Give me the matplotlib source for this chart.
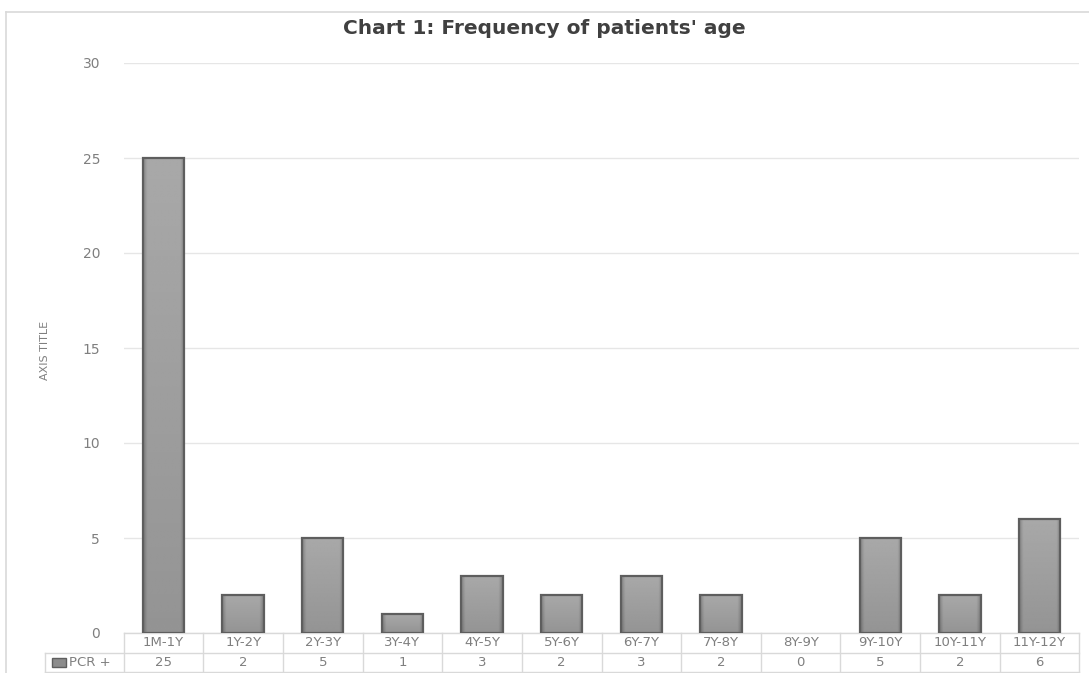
import matplotlib
matplotlib.use("Agg")
import matplotlib.pyplot as plt
import numpy as np
from matplotlib.patches import Rectangle
from matplotlib.lines import Line2D
from matplotlib.colors import LinearSegmentedColormap

categories = ["1M-1Y", "1Y-2Y", "2Y-3Y", "3Y-4Y", "4Y-5Y", "5Y-6Y",
              "6Y-7Y", "7Y-8Y", "8Y-9Y", "9Y-10Y", "10Y-11Y", "11Y-12Y"]
pcr_positive = [25, 2, 5, 1, 3, 2, 3, 2, 0, 5, 2, 6]
series_name = "PCR +"
title = "Chart 1: Frequency of patients' age"
y_ticks = [0, 5, 10, 15, 20, 25, 30]

plt.rcParams['font.family'] = ['DejaVu Sans']

W, H = 1089, 673
fig = plt.figure(figsize=(W / 100, H / 100), dpi=100)
ax = fig.add_axes([123.7 / W, 1 - 633 / H, (1079.3 - 123.7) / W, (633 - 63) / H])

x = np.arange(len(categories))
bar_w = 0.52

# gradient fill for bars: darker along the sides and towards the base
gx = np.linspace(-1, 1, 60)
gy = np.linspace(0, 1, 80)
side = np.clip((np.abs(gx) - 0.8) / 0.2, 0, 1)
GX, GY = np.meshgrid(side, gy)
shade = 0.66 - 0.14 * GX - 0.08 * (1 - GY)
cmap = LinearSegmentedColormap.from_list("g", ["#000000", "#ffffff"])

edge_w = [1.6 if v > 0 else 0 for v in pcr_positive]
bars = ax.bar(x, pcr_positive, width=bar_w, color="none", edgecolor="#5e5e5e",
              linewidth=edge_w, zorder=3)
for b, v in zip(bars, pcr_positive):
    if v <= 0:
        continue
    x0 = b.get_x()
    ax.imshow(shade, cmap=cmap, vmin=0, vmax=1, origin="lower", aspect="auto",
              extent=(x0, x0 + bar_w, 0, v), zorder=2, interpolation="bilinear")
ax.set_xlim(-0.5, len(categories) - 0.5)
ax.set_ylim(0, 30)

ax.set_yticks(y_ticks)
ax.yaxis.grid(True, color="#e6e6e6", linewidth=1.0, zorder=0)
ax.set_axisbelow(True)
ax.tick_params(axis="y", length=0, pad=17, labelsize=10, labelcolor="#7f7f7f")
ax.tick_params(axis="x", length=0, labelbottom=False)
for s in ax.spines.values():
    s.set_visible(False)

ax.set_ylabel("AXIS TITLE", fontsize=8, color="#7f7f7f")
ax.yaxis.set_label_coords(-0.077, 0.496)

# data table beneath the plot
row_h = 19.5 / 570  # in axes fraction
tcol = "#d9d9d9"
trans = ax.get_xaxis_transform()
n = len(categories)
legend_left = -0.5 - (123.7 - 45) / ((1079.3 - 123.7) / n)
for yy in [0, -row_h, -2 * row_h]:
    x_start = -0.5 if yy == 0 else legend_left
    ax.add_line(Line2D([x_start, n - 0.5], [yy, yy], transform=trans,
                       color=tcol, lw=1, clip_on=False))
for i in range(n + 1):
    ax.add_line(Line2D([i - 0.5, i - 0.5], [0, -2 * row_h], transform=trans,
                       color=tcol, lw=1, clip_on=False))
ax.add_line(Line2D([legend_left, legend_left], [-row_h, -2 * row_h], transform=trans,
                   color=tcol, lw=1, clip_on=False))
for i, (c, v) in enumerate(zip(categories, pcr_positive)):
    ax.text(i, -row_h / 2, c, transform=trans, ha="center", va="center",
            fontsize=9.5, color="#7f7f7f")
    ax.text(i, -1.5 * row_h, str(v), transform=trans, ha="center", va="center",
            fontsize=9.5, color="#7f7f7f")
# legend key in the table
fig.patches.append(Rectangle((52 / W, 1 - 667 / H), 14 / W, 9 / H, transform=fig.transFigure,
                             facecolor="#8c8c8c", edgecolor="#5e5e5e", lw=1))
fig.text(69 / W, 1 - 662 / H, series_name, ha="left", va="center", fontsize=9.5, color="#7f7f7f")

fig.text(0.5, 1 - 28 / H, title, ha="center", va="center", fontsize=14.5,
         fontweight="bold", color="#404040")

# chart frame (open on the right and bottom)
fig.add_artist(Line2D([6 / W, 6 / W], [0, 1 - 12 / H], transform=fig.transFigure,
                      color="#d9d9d9", lw=1.2))
fig.add_artist(Line2D([6 / W, 1], [1 - 12 / H, 1 - 12 / H], transform=fig.transFigure,
                      color="#d9d9d9", lw=1.2))

fig.savefig("out.png", dpi=100)
